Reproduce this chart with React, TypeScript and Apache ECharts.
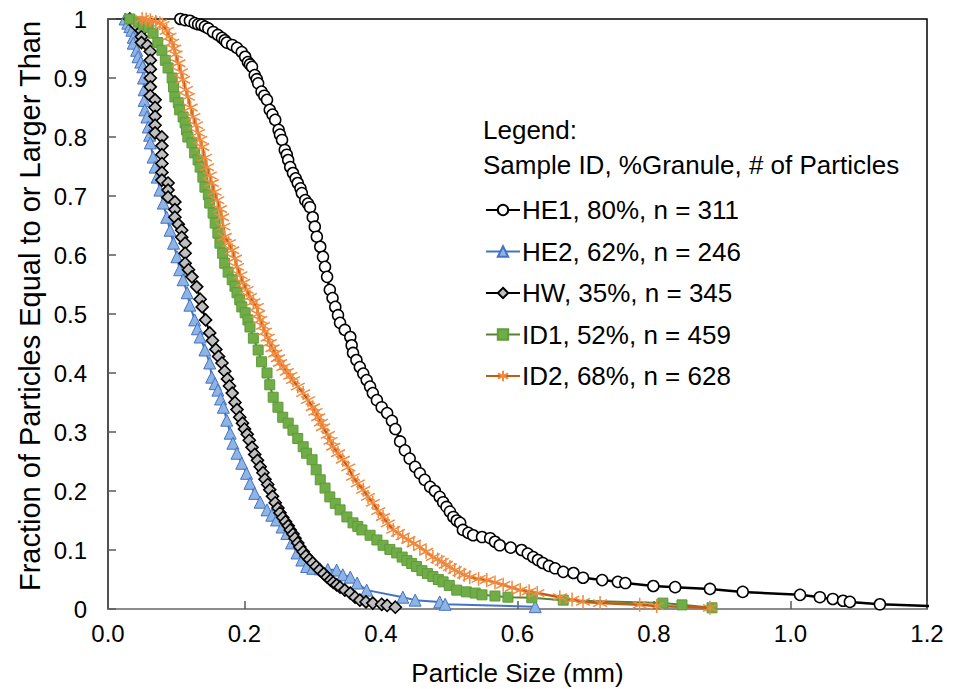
import React, { useEffect, useRef } from "react";
import * as echarts from "echarts";

const seriesNames = [
  "HE1, 80%, n = 311",
  "HE2, 62%, n = 246",
  "HW, 35%, n = 345",
  "ID1, 52%, n = 459",
  "ID2, 68%, n = 628",
];

const he1Data: number[][] = [
  [0.106, 1.0], [0.113, 0.998], [0.12, 0.997], [0.127, 0.993], [0.132, 0.991], [0.137, 0.99],
  [0.142, 0.987], [0.147, 0.984], [0.154, 0.978], [0.161, 0.973], [0.167, 0.968], [0.171, 0.964],
  [0.174, 0.96], [0.182, 0.956], [0.189, 0.951], [0.196, 0.944], [0.201, 0.936], [0.205, 0.927],
  [0.208, 0.923], [0.211, 0.919], [0.215, 0.905], [0.218, 0.898], [0.22, 0.891], [0.225, 0.877],
  [0.229, 0.87], [0.233, 0.863], [0.237, 0.846], [0.241, 0.838], [0.245, 0.829], [0.25, 0.812],
  [0.252, 0.804], [0.255, 0.795], [0.259, 0.778], [0.262, 0.77], [0.264, 0.761], [0.267, 0.749],
  [0.271, 0.739], [0.275, 0.73], [0.278, 0.722], [0.282, 0.713], [0.284, 0.705], [0.289, 0.693],
  [0.293, 0.687], [0.296, 0.681], [0.3, 0.664], [0.303, 0.648], [0.306, 0.631], [0.311, 0.614],
  [0.315, 0.597], [0.318, 0.58], [0.321, 0.563], [0.325, 0.541], [0.329, 0.527], [0.333, 0.512],
  [0.337, 0.498], [0.34, 0.485], [0.347, 0.473], [0.355, 0.461], [0.357, 0.447], [0.359, 0.434],
  [0.364, 0.422], [0.369, 0.41], [0.374, 0.399], [0.379, 0.388], [0.384, 0.377], [0.388, 0.366],
  [0.394, 0.354], [0.401, 0.342], [0.409, 0.332], [0.416, 0.319], [0.421, 0.305], [0.428, 0.284],
  [0.435, 0.269], [0.442, 0.255], [0.45, 0.241], [0.457, 0.23], [0.464, 0.219], [0.472, 0.207],
  [0.479, 0.2], [0.486, 0.19], [0.491, 0.181], [0.496, 0.173], [0.501, 0.165], [0.506, 0.156],
  [0.511, 0.15], [0.516, 0.146], [0.52, 0.134], [0.528, 0.129], [0.535, 0.125], [0.548, 0.122],
  [0.56, 0.12], [0.567, 0.114], [0.574, 0.108], [0.59, 0.104], [0.606, 0.1], [0.615, 0.094],
  [0.623, 0.088], [0.63, 0.083], [0.637, 0.078], [0.646, 0.073], [0.655, 0.069], [0.667, 0.063],
  [0.682, 0.061], [0.696, 0.053], [0.724, 0.049], [0.747, 0.046], [0.758, 0.044], [0.799, 0.039],
  [0.831, 0.037], [0.882, 0.034], [0.93, 0.029], [1.014, 0.024], [1.043, 0.02], [1.062, 0.017],
  [1.077, 0.014], [1.087, 0.012], [1.131, 0.008], [1.25, 0.003],
];

const he2Data: number[][] = [
  [0.025, 1.0], [0.029, 0.993], [0.032, 0.987], [0.035, 0.981], [0.037, 0.969], [0.037, 0.959],
  [0.042, 0.947], [0.044, 0.936], [0.048, 0.927], [0.051, 0.919], [0.052, 0.9], [0.053, 0.88],
  [0.053, 0.862], [0.054, 0.846], [0.057, 0.834], [0.059, 0.817], [0.061, 0.803], [0.062, 0.79],
  [0.066, 0.766], [0.069, 0.749], [0.072, 0.732], [0.076, 0.71], [0.081, 0.688], [0.086, 0.664],
  [0.091, 0.642], [0.096, 0.62], [0.101, 0.597], [0.105, 0.575], [0.11, 0.558], [0.116, 0.536],
  [0.12, 0.515], [0.127, 0.49], [0.131, 0.475], [0.135, 0.461], [0.142, 0.439], [0.149, 0.417],
  [0.152, 0.393], [0.157, 0.382], [0.161, 0.371], [0.165, 0.356], [0.169, 0.342], [0.174, 0.32],
  [0.179, 0.298], [0.183, 0.281], [0.189, 0.264], [0.196, 0.247], [0.203, 0.23], [0.208, 0.213],
  [0.215, 0.196], [0.223, 0.181], [0.233, 0.168], [0.24, 0.159], [0.247, 0.151], [0.255, 0.139],
  [0.262, 0.128], [0.269, 0.112], [0.277, 0.095], [0.284, 0.083], [0.291, 0.072], [0.3, 0.069],
  [0.311, 0.068], [0.322, 0.067], [0.335, 0.066], [0.344, 0.058], [0.355, 0.054], [0.365, 0.044],
  [0.379, 0.032], [0.432, 0.02], [0.45, 0.015], [0.486, 0.012], [0.494, 0.008], [0.626, 0.004],
];

const hwData: number[][] = [
  [0.032, 1.0], [0.04, 0.99], [0.049, 0.98], [0.049, 0.97], [0.049, 0.96], [0.058, 0.955],
  [0.062, 0.945], [0.062, 0.93], [0.062, 0.915], [0.062, 0.9], [0.062, 0.885], [0.062, 0.87],
  [0.069, 0.863], [0.069, 0.85], [0.069, 0.835], [0.069, 0.82], [0.069, 0.807], [0.079, 0.8],
  [0.079, 0.785], [0.079, 0.77], [0.079, 0.755], [0.079, 0.74], [0.079, 0.727], [0.088, 0.722],
  [0.088, 0.71], [0.088, 0.698], [0.098, 0.69], [0.098, 0.677], [0.098, 0.664], [0.103, 0.652],
  [0.108, 0.642], [0.108, 0.63], [0.113, 0.62], [0.113, 0.603], [0.113, 0.586], [0.118, 0.575],
  [0.123, 0.563], [0.13, 0.546], [0.135, 0.525], [0.138, 0.512], [0.143, 0.49], [0.149, 0.468],
  [0.153, 0.455], [0.158, 0.44], [0.162, 0.428], [0.167, 0.417], [0.171, 0.403], [0.175, 0.39],
  [0.178, 0.378], [0.182, 0.366], [0.186, 0.35], [0.189, 0.338], [0.193, 0.325], [0.197, 0.315],
  [0.2, 0.305], [0.204, 0.296], [0.207, 0.286], [0.211, 0.274], [0.215, 0.262], [0.219, 0.252],
  [0.223, 0.241], [0.227, 0.231], [0.23, 0.22], [0.234, 0.211], [0.237, 0.202], [0.241, 0.191],
  [0.245, 0.18], [0.249, 0.171], [0.252, 0.163], [0.256, 0.155], [0.26, 0.148], [0.264, 0.141],
  [0.267, 0.134], [0.271, 0.127], [0.274, 0.12], [0.278, 0.112], [0.281, 0.105], [0.286, 0.097],
  [0.29, 0.09], [0.295, 0.084], [0.3, 0.078], [0.305, 0.072], [0.31, 0.066], [0.316, 0.06],
  [0.321, 0.054], [0.326, 0.049], [0.33, 0.045], [0.335, 0.041], [0.34, 0.037], [0.347, 0.032],
  [0.355, 0.027], [0.362, 0.02], [0.369, 0.015], [0.378, 0.012], [0.388, 0.01], [0.401, 0.008],
  [0.409, 0.006], [0.421, 0.003],
];

const id1Data: number[][] = [
  [0.032, 1.0], [0.045, 0.995], [0.052, 0.99], [0.059, 0.986], [0.066, 0.976], [0.073, 0.96],
  [0.079, 0.947], [0.084, 0.93], [0.088, 0.917], [0.094, 0.9], [0.096, 0.885], [0.098, 0.868],
  [0.103, 0.858], [0.105, 0.846], [0.11, 0.834], [0.113, 0.824], [0.115, 0.812], [0.117, 0.8],
  [0.123, 0.79], [0.127, 0.773], [0.132, 0.761], [0.135, 0.749], [0.139, 0.732], [0.142, 0.715],
  [0.147, 0.702], [0.149, 0.688], [0.154, 0.671], [0.157, 0.654], [0.161, 0.637], [0.164, 0.62],
  [0.168, 0.603], [0.171, 0.586], [0.176, 0.571], [0.182, 0.558], [0.186, 0.547], [0.189, 0.536],
  [0.193, 0.524], [0.196, 0.512], [0.201, 0.502], [0.205, 0.49], [0.208, 0.478], [0.213, 0.459],
  [0.22, 0.439], [0.225, 0.419], [0.233, 0.4], [0.237, 0.38], [0.242, 0.359], [0.249, 0.342],
  [0.256, 0.325], [0.264, 0.315], [0.271, 0.303], [0.278, 0.289], [0.286, 0.275], [0.291, 0.264],
  [0.299, 0.253], [0.305, 0.236], [0.311, 0.219], [0.318, 0.205], [0.325, 0.19], [0.333, 0.179],
  [0.34, 0.168], [0.35, 0.156], [0.359, 0.146], [0.366, 0.14], [0.372, 0.134], [0.384, 0.125],
  [0.394, 0.117], [0.403, 0.108], [0.413, 0.101], [0.423, 0.095], [0.431, 0.088], [0.438, 0.082],
  [0.445, 0.077], [0.452, 0.072], [0.46, 0.065], [0.468, 0.06], [0.476, 0.055], [0.484, 0.05],
  [0.491, 0.046], [0.5, 0.04], [0.511, 0.032], [0.525, 0.029], [0.538, 0.027], [0.548, 0.024],
  [0.567, 0.022], [0.586, 0.02], [0.621, 0.019], [0.667, 0.015], [0.813, 0.01], [0.841, 0.007],
  [0.885, 0.002],
];

const id2Data: number[][] = [
  [0.05, 1.0], [0.056, 0.999], [0.062, 0.998], [0.07, 0.995], [0.076, 0.993], [0.08, 0.99],
  [0.086, 0.98], [0.09, 0.97], [0.094, 0.96], [0.097, 0.95], [0.099, 0.94], [0.103, 0.925],
  [0.107, 0.91], [0.11, 0.897], [0.114, 0.88], [0.117, 0.868], [0.121, 0.85], [0.125, 0.834],
  [0.129, 0.82], [0.132, 0.807], [0.135, 0.795], [0.138, 0.783], [0.142, 0.765], [0.145, 0.749],
  [0.149, 0.735], [0.152, 0.722], [0.156, 0.707], [0.16, 0.693], [0.164, 0.678], [0.167, 0.664],
  [0.169, 0.648], [0.171, 0.631], [0.177, 0.62], [0.182, 0.608], [0.186, 0.594], [0.189, 0.58],
  [0.194, 0.566], [0.198, 0.553], [0.203, 0.541], [0.208, 0.529], [0.213, 0.52], [0.218, 0.512],
  [0.22, 0.5], [0.223, 0.49], [0.227, 0.48], [0.23, 0.47], [0.234, 0.46], [0.237, 0.451],
  [0.241, 0.442], [0.245, 0.433], [0.249, 0.425], [0.252, 0.417], [0.257, 0.41], [0.262, 0.402],
  [0.267, 0.395], [0.271, 0.388], [0.278, 0.377], [0.286, 0.366], [0.293, 0.354], [0.3, 0.342],
  [0.304, 0.334], [0.308, 0.325], [0.312, 0.316], [0.315, 0.308], [0.322, 0.295], [0.326, 0.285],
  [0.33, 0.275], [0.337, 0.264], [0.344, 0.253], [0.352, 0.24], [0.359, 0.224], [0.366, 0.213],
  [0.374, 0.202], [0.381, 0.19], [0.388, 0.18], [0.396, 0.166], [0.403, 0.156], [0.41, 0.145],
  [0.418, 0.134], [0.425, 0.129], [0.432, 0.123], [0.44, 0.117], [0.448, 0.111], [0.457, 0.105],
  [0.466, 0.097], [0.476, 0.088], [0.483, 0.084], [0.489, 0.08], [0.495, 0.075], [0.501, 0.071],
  [0.508, 0.066], [0.515, 0.062], [0.522, 0.058], [0.53, 0.054], [0.543, 0.051], [0.555, 0.049],
  [0.567, 0.045], [0.579, 0.041], [0.592, 0.036], [0.604, 0.032], [0.617, 0.03], [0.629, 0.027],
  [0.662, 0.02], [0.68, 0.016], [0.696, 0.012], [0.721, 0.01], [0.779, 0.007], [0.804, 0.005],
  [0.882, 0.002],
];

const xAxisTitle = "Particle Size (mm)";
const yAxisTitle = "Fraction of Particles Equal to or Larger Than";
const legendTitleLines = ["Legend:", "Sample ID, %Granule, # of Particles"];

const FONT = "'Liberation Sans', Arial, sans-serif";
const ASTERISK = "path://M5,0L5,10M0.67,2.5L9.33,7.5M0.67,7.5L9.33,2.5";

export default function App() {
  const ref = useRef<HTMLDivElement>(null);
  useEffect(() => {
    if (!ref.current) return;
    const chart = echarts.init(ref.current, null, { renderer: "svg" });
    const mk = (
      name: string,
      data: number[][],
      lineColor: string,
      symbol: string,
      symbolSize: number,
      fill: string,
      border: string,
      borderWidth: number,
      lineWidth: number
    ) => ({
      type: "line",
      name,
      data,
      symbol,
      symbolSize,
      showAllSymbol: true,
      lineStyle: { color: lineColor, width: lineWidth },
      itemStyle: { color: fill, borderColor: border, borderWidth },
      emphasis: { disabled: true },
      clip: true,
    });
    chart.setOption({
      animation: false,
      backgroundColor: "#ffffff",
      textStyle: { fontFamily: FONT },
      grid: {
        left: 108,
        right: 28,
        top: 19,
        bottom: 80,
        outerBoundsMode: "none",
        containLabel: false,
        show: true,
        borderColor: "#000000",
        borderWidth: 1.5,
        backgroundColor: "transparent",
      },
      xAxis: {
        type: "value",
        min: 0,
        max: 1.2,
        interval: 0.2,
        name: xAxisTitle,
        nameLocation: "middle",
        nameGap: 51,
        nameTextStyle: { fontSize: 26, color: "#000", fontFamily: FONT },
        axisLine: { show: true, onZero: false, lineStyle: { color: "#8c8c8c", width: 2 } },
        axisTick: { show: true, inside: true, length: 8, lineStyle: { color: "#595959", width: 1.5 } },
        axisLabel: {
          fontSize: 24,
          color: "#000",
          margin: 12,
          fontFamily: FONT,
          formatter: (v: number) => v.toFixed(1),
        },
        splitLine: { show: false },
      },
      yAxis: {
        type: "value",
        min: 0,
        max: 1,
        interval: 0.1,
        axisLine: { show: true, onZero: false, lineStyle: { color: "#595959", width: 1.5 } },
        axisTick: { show: true, inside: true, length: 8, lineStyle: { color: "#595959", width: 1.5 } },
        axisLabel: {
          fontSize: 24,
          color: "#000",
          margin: 21,
          fontFamily: FONT,
          formatter: (v: number) => String(Number(v.toFixed(1))),
        },
        splitLine: { show: false },
      },
      legend: {
        orient: "vertical",
        left: 480,
        top: 190,
        itemWidth: 34,
        itemHeight: 13,
        itemGap: 11.5,
        textStyle: { fontSize: 26, color: "#000", fontFamily: FONT, lineHeight: 30, padding: [0, 0, 0, -3] },
        data: seriesNames,
      },
      graphic: [
        {
          type: "text",
          x: 30,
          y: 306,
          rotation: Math.PI / 2,
          style: {
            text: yAxisTitle,
            fontSize: 29,
            fill: "#000",
            fontFamily: FONT,
            align: "center",
            verticalAlign: "middle",
          },
        },
        {
          type: "text",
          left: 483,
          top: 117,
          style: { text: legendTitleLines[0], fontSize: 26, fill: "#000", fontFamily: FONT },
        },
        {
          type: "text",
          left: 483,
          top: 152,
          style: { text: legendTitleLines[1], fontSize: 26, fill: "#000", fontFamily: FONT },
        },
      ],
      series: [
        mk(seriesNames[0], he1Data, "#000000", "circle", 11, "#ffffff", "#000000", 1.5, 2.5),
        mk(seriesNames[1], he2Data, "#4472C4", "triangle", 12, "#8EB4E3", "#4472C4", 1, 2),
        mk(seriesNames[2], hwData, "#000000", "diamond", 12, "#BFBFBF", "#000000", 1.6, 2),
        mk(seriesNames[3], id1Data, "#548235", "rect", 10, "#70AD47", "#5E9B3A", 1, 2),
        mk(seriesNames[4], id2Data, "#C55A11", ASTERISK, 14, "transparent", "#F08A3E", 1.5, 2.5),
      ],
    });
    return () => chart.dispose();
  }, []);
  return (
    <div
      ref={ref}
      style={{ position: "fixed", left: 0, top: 0, width: 955, height: 689, background: "#fff" }}
    />
  );
}
